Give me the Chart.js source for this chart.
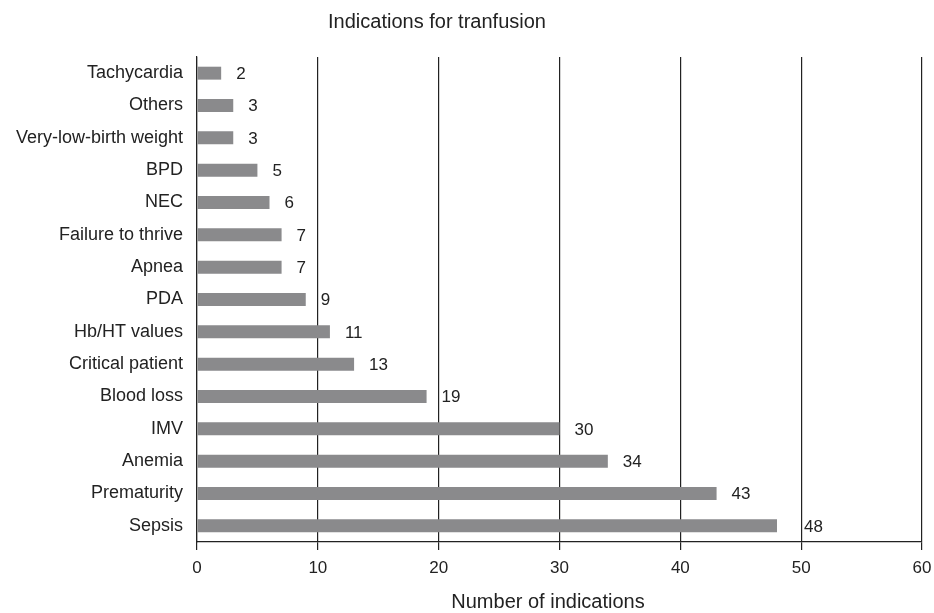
<!DOCTYPE html>
<html>
<head>
<meta charset="utf-8">
<script src="https://cdn.jsdelivr.net/npm/chart.js@4"></script>
<style>
html,body{margin:0;padding:0;background:#fff;}
#wrap{width:934px;height:613px;position:relative;}
</style>
</head>
<body>
<div id="wrap"><canvas id="c" width="934" height="613"></canvas></div>
<script>
const categories = ["Tachycardia","Others","Very-low-birth weight","BPD","NEC","Failure to thrive","Apnea","PDA","Hb/HT values","Critical patient","Blood loss","IMV","Anemia","Prematurity","Sepsis"];
const counts = [2,3,3,5,6,7,7,9,11,13,19,30,34,43,48];
const xTicks = [0,10,20,30,40,50,60];
const chartTitle = "Indications for tranfusion";
const xTitle = "Number of indications";

const FONT = "'Liberation Sans', Arial, sans-serif";

const labelPlugin = {
  id: 'labels',
  afterDatasetsDraw(chart) {
    const ctx = chart.ctx;
    const meta = chart.getDatasetMeta(0);
    ctx.save();
    ctx.font = "17px " + FONT;
    ctx.fillStyle = "#222";
    ctx.textAlign = "left";
    ctx.textBaseline = "middle";
    meta.data.forEach((el, i) => {
      const off = counts[i] === 48 ? 27 : 15;
      ctx.fillText(String(counts[i]), el.x + off, el.y + 1);
    });
    ctx.restore();
  },
  afterDraw(chart) {
    const ctx = chart.ctx;
    ctx.save();
    ctx.fillStyle = "#222";
    ctx.textAlign = "center";
    ctx.textBaseline = "middle";
    ctx.font = "20px " + FONT;
    ctx.fillText(chartTitle, 437, 22);
    ctx.fillText(xTitle, 548, 602);
    ctx.restore();
  }
};

new Chart(document.getElementById('c'), {
  type: 'bar',
  data: {
    labels: categories,
    datasets: [{
      data: counts,
      backgroundColor: '#8a8a8c',
      borderWidth: 0,
      barPercentage: 0.4,
      categoryPercentage: 1.0
    }]
  },
  options: {
    indexAxis: 'y',
    responsive: false,
    animation: false,
    devicePixelRatio: 1,
    layout: { padding: { left: 0, right: 12, top: 57, bottom: 0 } },
    plugins: { legend: { display: false }, tooltip: { enabled: false }, title: { display: false } },
    scales: {
      x: {
        min: 0, max: 60,
        afterBuildTicks(s) { s.ticks = xTicks.map(v => ({ value: v })); },
        afterFit(s) { s.height = 71; s.paddingLeft = 0; s.paddingRight = 0; },
        ticks: { color: '#222', font: { family: FONT, size: 17 }, padding: 8, maxRotation: 0 },
        grid: { color: '#222', lineWidth: 1.2, tickLength: 8, drawOnChartArea: true },
        border: { display: true, color: '#222', width: 1.2 }
      },
      y: {
        afterFit(s) { s.width = 197; s.paddingTop = 0; s.paddingBottom = 0; },
        ticks: { color: '#222', font: { family: FONT, size: 18 }, padding: 14 },
        grid: { display: false, drawTicks: false },
        border: { display: true, color: '#222', width: 1.2 }
      }
    }
  },
  plugins: [labelPlugin]
});
</script>
</body>
</html>
